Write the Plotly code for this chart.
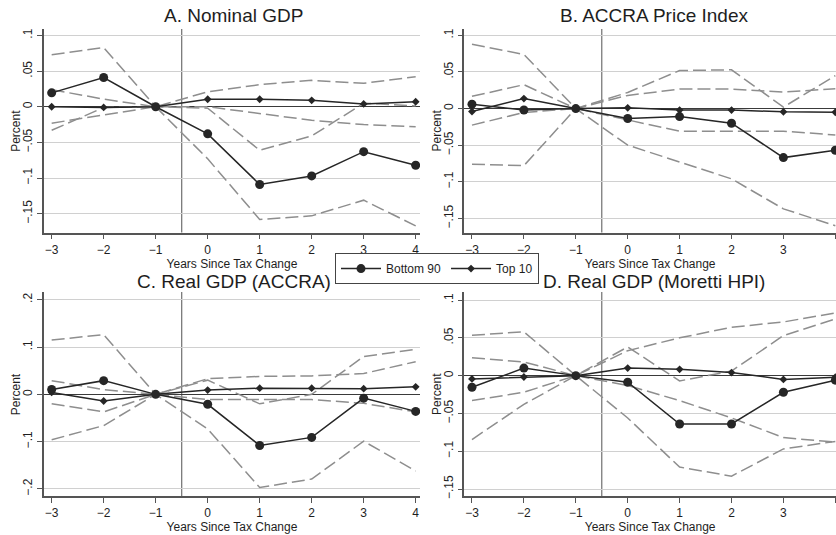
import plotly.graph_objects as go

W, H = 836, 535

years = [-3, -2, -1, 0, 1, 2, 3, 4]
x_tick_labels = ["\u22123", "\u22122", "\u22121", "0", "1", "2", "3", "4"]

titles = ["A. Nominal GDP", "B. ACCRA Price Index", "C. Real GDP (ACCRA)", "D. Real GDP (Moretti HPI)"]

# Panel A
a_b90 = [0.0195, 0.041, 0, -0.038, -0.109, -0.097, -0.063, -0.082]
a_b90_hi = [0.073, 0.083, 0, -0.002, -0.061, -0.041, 0.005, 0.001]
a_b90_lo = [-0.033, -0.001, 0, -0.073, -0.158, -0.153, -0.131, -0.167]
a_t10 = [0.0, -0.001, 0, 0.0105, 0.0105, 0.009, 0.004, 0.007]
a_t10_hi = [0.024, 0.0107, 0, 0.021, 0.031, 0.037, 0.033, 0.042]
a_t10_lo = [-0.023, -0.0116, 0, 0.0, -0.009, -0.019, -0.025, -0.028]

# Panel B
b_b90 = [0.006, -0.002, 0, -0.0136, -0.011, -0.020, -0.067, -0.057]
b_b90_hi = [0.088, 0.074, 0, 0.022, 0.052, 0.053, 0.002, 0.045]
b_b90_lo = [-0.076, -0.078, 0, -0.050, -0.073, -0.096, -0.137, -0.160]
b_t10 = [-0.004, 0.0136, 0, 0.001, -0.002, -0.002, -0.0045, -0.005]
b_t10_hi = [0.0167, 0.0326, 0, 0.018, 0.0266, 0.0266, 0.0226, 0.027]
b_t10_lo = [-0.0226, -0.0054, 0, -0.016, -0.031, -0.031, -0.031, -0.036]

# Panel C
c_b90 = [0.0105, 0.029, 0, -0.021, -0.108, -0.091, -0.008, -0.036]
c_b90_hi = [0.115, 0.126, 0, 0.030, -0.020, 0.000, 0.080, 0.095]
c_b90_lo = [-0.096, -0.066, 0, -0.073, -0.197, -0.179, -0.099, -0.162]
c_t10 = [0.004, -0.014, 0, 0.009, 0.013, 0.013, 0.012, 0.016]
c_t10_hi = [0.029, 0.010, 0, 0.033, 0.038, 0.039, 0.044, 0.069]
c_t10_lo = [-0.020, -0.037, 0, -0.011, -0.011, -0.011, -0.019, -0.037]

# Panel D
d_b90 = [-0.0153, 0.010, 0, -0.0088, -0.064, -0.064, -0.022, -0.006]
d_b90_hi = [0.0534, 0.058, 0, 0.038, -0.007, 0.006, 0.053, 0.075]
d_b90_lo = [-0.0845, -0.038, 0, -0.056, -0.121, -0.133, -0.097, -0.087]
d_t10 = [-0.0044, -0.0018, 0, 0.010, 0.0083, 0.004, -0.005, -0.002]
d_t10_hi = [0.0236, 0.018, 0, 0.033, 0.050, 0.064, 0.071, 0.083]
d_t10_lo = [-0.033, -0.022, 0, -0.013, -0.033, -0.056, -0.082, -0.088]

y_ticks_main = [-0.15, -0.1, -0.05, 0, 0.05, 0.1]
y_labels_main = ["\u2212.15", "\u2212.1", "\u2212.05", "0", ".05", ".1"]
y_ticks_c = [-0.2, -0.1, 0, 0.1, 0.2]
y_labels_c = ["\u2212.2", "\u2212.1", "0", ".1", ".2"]

panels = [
    dict(b90=a_b90, b90_hi=a_b90_hi, b90_lo=a_b90_lo, t10=a_t10, t10_hi=a_t10_hi, t10_lo=a_t10_lo,
         px=(44, 420), py=(28.3, 233.3), xr=(-3.1475, 4.083), yr=(-0.1764, 0.1089),
         yt=y_ticks_main, yl=y_labels_main, title_xy=(233.5, 15), ylab_x=16),
    dict(b90=b_b90, b90_hi=b_b90_hi, b90_lo=b_b90_lo, t10=b_t10, t10_hi=b_t10_hi, t10_lo=b_t10_lo,
         px=(464.3, 836), py=(28.3, 233.3), xr=(-3.148, 4.013), yr=(-0.1694, 0.1086),
         yt=y_ticks_main, yl=y_labels_main, title_xy=(654, 15), ylab_x=436.7),
    dict(b90=c_b90, b90_hi=c_b90_hi, b90_lo=c_b90_lo, t10=c_t10, t10_hi=c_t10_hi, t10_lo=c_t10_lo,
         px=(44, 420), py=(293.3, 499), xr=(-3.1475, 4.083), yr=(-0.2154, 0.2161),
         yt=y_ticks_c, yl=y_labels_c, title_xy=(233.5, 282.5), ylab_x=16),
    dict(b90=d_b90, b90_hi=d_b90_hi, b90_lo=d_b90_lo, t10=d_t10, t10_hi=d_t10_hi, t10_lo=d_t10_lo,
         px=(464.3, 836), py=(293.3, 499), xr=(-3.148, 4.013), yr=(-0.1596, 0.1105),
         yt=y_ticks_main, yl=y_labels_main, title_xy=(654, 282.5), ylab_x=436.7),
]

FONT = "Liberation Sans, Arial, sans-serif"
TXT = "#1e1e1e"
SOLID = "#262626"
DASH = "#8e8e8e"
GRID = "#d0d0d0"
AXIS = "#555555"

fig = go.Figure()
annotations = []
shapes = []
layout = {}

for i, p in enumerate(panels, start=1):
    xa = "x" if i == 1 else f"x{i}"
    ya = "y" if i == 1 else f"y{i}"
    for key in ["b90_hi", "b90_lo", "t10_hi", "t10_lo"]:
        fig.add_trace(go.Scatter(
            x=years, y=p[key], mode="lines", xaxis=xa, yaxis=ya,
            line=dict(color=DASH, width=1.5, dash="13px,5px"),
            showlegend=False, hoverinfo="skip"))
    fig.add_trace(go.Scatter(
        x=years, y=p["t10"], mode="lines+markers", xaxis=xa, yaxis=ya,
        name="Top 10", legendgroup="t10", showlegend=(i == 1),
        line=dict(color=SOLID, width=1.5),
        marker=dict(symbol="diamond", size=6, color=SOLID)))
    fig.add_trace(go.Scatter(
        x=years, y=p["b90"], mode="lines+markers", xaxis=xa, yaxis=ya,
        name="Bottom 90", legendgroup="b90", showlegend=(i == 1),
        line=dict(color=SOLID, width=1.5),
        marker=dict(symbol="circle", size=9, color=SOLID)))

    x0, x1 = p["px"]
    ytop, ybot = p["py"]
    xkey = "xaxis" if i == 1 else f"xaxis{i}"
    ykey = "yaxis" if i == 1 else f"yaxis{i}"
    layout[xkey] = dict(
        domain=[x0 / W, min(x1 / W, 1.0)], anchor=ya, range=list(p["xr"]),
        tickmode="array", tickvals=years, ticktext=x_tick_labels,
        ticks="outside", ticklen=5, tickcolor=AXIS, tickwidth=1,
        showline=True, linecolor=AXIS, linewidth=1.5, showgrid=False, zeroline=False,
        tickfont=dict(family=FONT, size=12, color=TXT),
        title=dict(text="Years Since Tax Change", font=dict(family=FONT, size=12, color=TXT), standoff=0),
    )
    layout[ykey] = dict(
        domain=[1 - ybot / H, 1 - ytop / H], anchor=xa, range=list(p["yr"]),
        tickmode="array", tickvals=p["yt"], ticktext=p["yl"], tickangle=-90,
        ticks="outside", ticklen=5, tickcolor=AXIS, tickwidth=1,
        showline=True, linecolor=AXIS, linewidth=1.5,
        showgrid=True, gridcolor=GRID, gridwidth=1.2,
        zeroline=True, zerolinecolor="#3a3a3a", zerolinewidth=1.3,
        tickfont=dict(family=FONT, size=12, color=TXT),
    )
    # vertical reference line at -0.5
    shapes.append(dict(type="line", xref=xa, yref=f"{ya} domain", x0=-0.5, x1=-0.5, y0=0, y1=1,
                       line=dict(color="#7a7a7a", width=1.3), layer="below"))
    tx, ty = p["title_xy"]
    annotations.append(dict(text=titles[i - 1], x=tx / W, y=1 - ty / H, xref="paper", yref="paper",
                            xanchor="center", yanchor="middle", showarrow=False,
                            font=dict(family=FONT, size=19, color=TXT)))
    annotations.append(dict(text="Percent", x=p["ylab_x"] / W, y=1 - (ytop + ybot) / 2 / H,
                            xref="paper", yref="paper", xanchor="center", yanchor="middle",
                            textangle=-90, showarrow=False,
                            font=dict(family=FONT, size=12, color=TXT)))

fig.update_layout(
    width=W, height=H, margin=dict(l=0, r=0, t=0, b=0),
    paper_bgcolor="white", plot_bgcolor="white",
    showlegend=True,
    legend=dict(orientation="h", x=437 / W, xanchor="center", y=1 - 254 / H, yanchor="top",
                bordercolor="#444444", borderwidth=1, bgcolor="white",
                font=dict(family=FONT, size=12, color=TXT), traceorder="reversed",
                itemwidth=40, tracegroupgap=0),
    annotations=annotations, shapes=shapes,
    **layout,
)

fig.write_html("out.html")
